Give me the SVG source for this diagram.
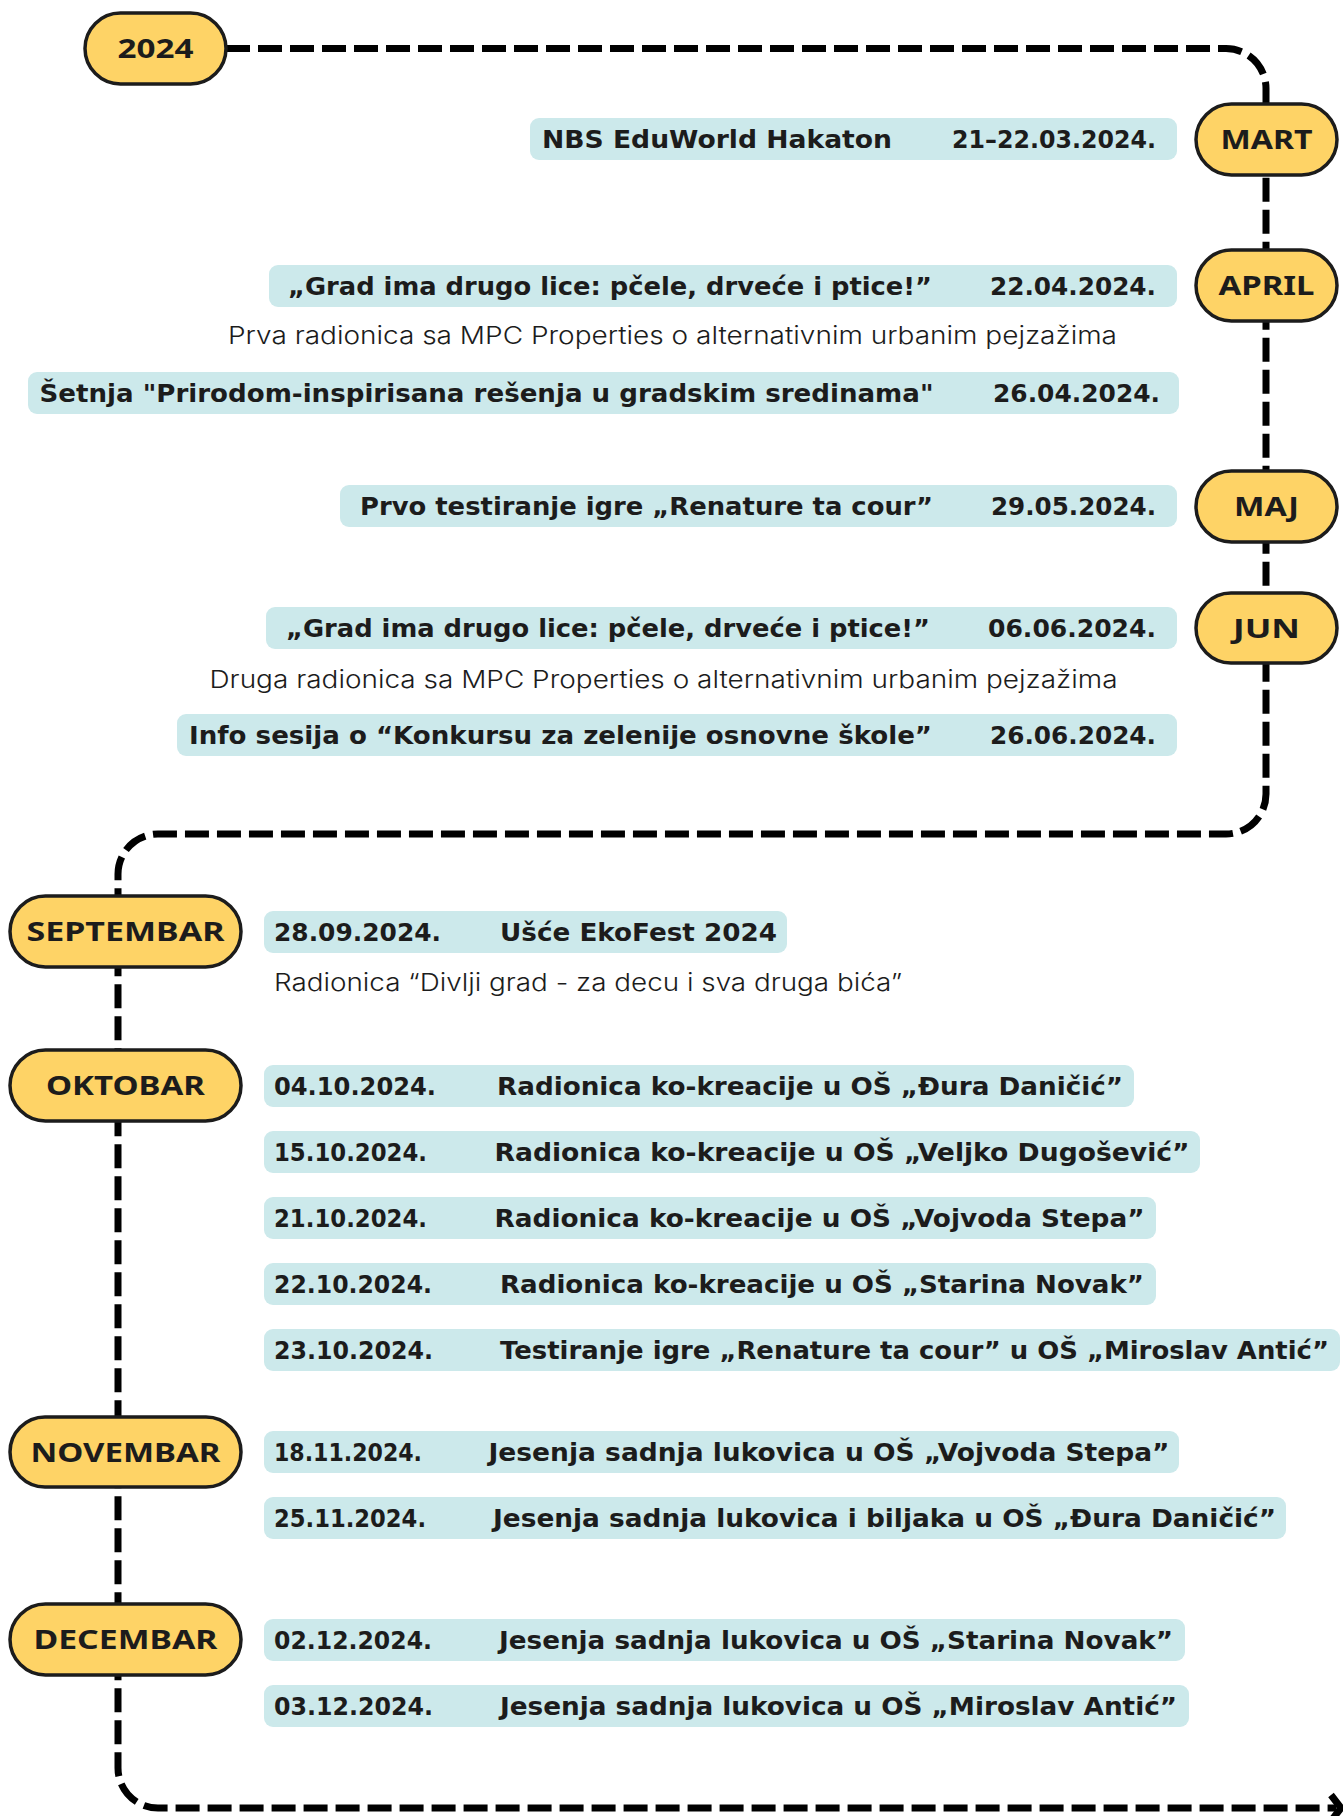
<svg xmlns="http://www.w3.org/2000/svg" width="1343" height="1816" viewBox="0 0 1343 1816">
<style>
.pill{fill:#FED366;stroke:#1c1c1c;stroke-width:3.5}
.pt{font-family:"Noto Sans","DejaVu Sans",sans-serif;font-weight:700;font-size:27px;fill:#1c1c1c;text-anchor:middle}
.box{fill:#CCE9EB}
.bt{font-family:"DejaVu Sans","Noto Sans",sans-serif;font-weight:700;font-size:24px;fill:#1c1c1c}
.pl{font-family:Inter,"Noto Sans",sans-serif;font-weight:300;font-size:24px;fill:#1c1c1c}
.line{fill:none;stroke:#000;stroke-width:7;stroke-dasharray:24 8}
</style>
<rect width="1343" height="1816" fill="#fff"/>
<g id="connectors">
<path class="line" d="M 226 48.5 H 1226 A 40 40 0 0 1 1266 88.5 V 794 A 40 40 0 0 1 1226 834 H 158 A 40 40 0 0 0 118 874 V 1768 A 40 40 0 0 0 158 1808 H 1336"/>
<path d="M 1331 1795 L 1341 1808 L 1331 1821" fill="none" stroke="#000" stroke-width="7"/>
</g>
<g id="n2024"><rect class="pill" x="85" y="13" width="141" height="71" rx="35.5"/><text class="pt" x="155.5" y="58" textLength="76" lengthAdjust="spacingAndGlyphs">2024</text></g>
<g id="mart"><rect class="pill" x="1196" y="104" width="141" height="71" rx="35.5"/><text class="pt" x="1266.5" y="149" textLength="92" lengthAdjust="spacingAndGlyphs">MART</text></g>
<g id="april"><rect class="pill" x="1196" y="250" width="141" height="71" rx="35.5"/><text class="pt" x="1266.5" y="295" textLength="96" lengthAdjust="spacingAndGlyphs">APRIL</text></g>
<g id="maj"><rect class="pill" x="1196" y="471" width="141" height="71" rx="35.5"/><text class="pt" x="1266.5" y="516" textLength="65" lengthAdjust="spacingAndGlyphs">MAJ</text></g>
<g id="jun"><rect class="pill" x="1196" y="593" width="141" height="70" rx="35"/><text class="pt" x="1266.5" y="637.5" textLength="67" lengthAdjust="spacingAndGlyphs">JUN</text></g>
<g id="septembar"><rect class="pill" x="10" y="896" width="231" height="71" rx="35.5"/><text class="pt" x="125.5" y="941" textLength="198" lengthAdjust="spacingAndGlyphs">SEPTEMBAR</text></g>
<g id="oktobar"><rect class="pill" x="10" y="1050" width="231" height="71" rx="35.5"/><text class="pt" x="125.5" y="1095" textLength="159" lengthAdjust="spacingAndGlyphs">OKTOBAR</text></g>
<g id="novembar"><rect class="pill" x="10" y="1417" width="231" height="70" rx="35"/><text class="pt" x="125.5" y="1461.5" textLength="190" lengthAdjust="spacingAndGlyphs">NOVEMBAR</text></g>
<g id="decembar"><rect class="pill" x="10" y="1604" width="231" height="71" rx="35.5"/><text class="pt" x="125.5" y="1649" textLength="184" lengthAdjust="spacingAndGlyphs">DECEMBAR</text></g>

<g id="e1"><rect class="box" x="530" y="118" width="647" height="42" rx="9"/><text class="bt" x="542" y="147.5" textLength="350" lengthAdjust="spacingAndGlyphs">NBS EduWorld Hakaton</text><text class="bt" x="952" y="147.5" textLength="204" lengthAdjust="spacingAndGlyphs">21–22.03.2024.</text></g>
<g id="e2"><rect class="box" x="269" y="265" width="908" height="42" rx="9"/><text class="bt" x="288" y="294.5" textLength="644" lengthAdjust="spacingAndGlyphs">„Grad ima drugo lice: pčele, drveće i ptice!”</text><text class="bt" x="990" y="294.5" textLength="166" lengthAdjust="spacingAndGlyphs">22.04.2024.</text></g>
<g id="t1"><text class="pl" x="228" y="344" textLength="889" lengthAdjust="spacingAndGlyphs">Prva radionica sa MPC Properties o alternativnim urbanim pejzažima</text></g>
<g id="e3"><rect class="box" x="28" y="372" width="1151" height="42" rx="9"/><text class="bt" x="39.5" y="401.5" textLength="894" lengthAdjust="spacingAndGlyphs">Šetnja "Prirodom-inspirisana rešenja u gradskim sredinama"</text><text class="bt" x="993" y="401.5" textLength="167" lengthAdjust="spacingAndGlyphs">26.04.2024.</text></g>
<g id="e4"><rect class="box" x="340" y="485" width="837" height="42" rx="9"/><text class="bt" x="360" y="514.5" textLength="573" lengthAdjust="spacingAndGlyphs">Prvo testiranje igre „Renature ta cour”</text><text class="bt" x="991" y="514.5" textLength="165" lengthAdjust="spacingAndGlyphs">29.05.2024.</text></g>
<g id="e5"><rect class="box" x="266" y="607" width="911" height="42" rx="9"/><text class="bt" x="286" y="636.5" textLength="644" lengthAdjust="spacingAndGlyphs">„Grad ima drugo lice: pčele, drveće i ptice!”</text><text class="bt" x="988" y="636.5" textLength="168" lengthAdjust="spacingAndGlyphs">06.06.2024.</text></g>
<g id="t2"><text class="pl" x="209.5" y="688" textLength="908" lengthAdjust="spacingAndGlyphs">Druga radionica sa MPC Properties o alternativnim urbanim pejzažima</text></g>
<g id="e6"><rect class="box" x="177" y="714" width="1000" height="42" rx="9"/><text class="bt" x="189" y="743.5" textLength="743" lengthAdjust="spacingAndGlyphs">Info sesija o “Konkursu za zelenije osnovne škole”</text><text class="bt" x="990" y="743.5" textLength="166" lengthAdjust="spacingAndGlyphs">26.06.2024.</text></g>

<g id="e7"><rect class="box" x="264" y="911" width="523" height="42" rx="9"/><text class="bt" x="274" y="940.5" textLength="167" lengthAdjust="spacingAndGlyphs">28.09.2024.</text><text class="bt" x="500" y="940.5" textLength="277" lengthAdjust="spacingAndGlyphs">Ušće EkoFest 2024</text></g>
<g id="t3"><text class="pl" x="274" y="990.5" textLength="628" lengthAdjust="spacingAndGlyphs">Radionica “Divlji grad - za decu i sva druga bića”</text></g>
<g id="e8"><rect class="box" x="264" y="1065" width="870" height="42" rx="9"/><text class="bt" x="274" y="1094.5" textLength="162" lengthAdjust="spacingAndGlyphs">04.10.2024.</text><text class="bt" x="497" y="1094.5" textLength="626" lengthAdjust="spacingAndGlyphs">Radionica ko-kreacije u OŠ „Đura Daničić”</text></g>
<g id="e9"><rect class="box" x="264" y="1131" width="936" height="42" rx="9"/><text class="bt" x="274" y="1160.5" textLength="153" lengthAdjust="spacingAndGlyphs">15.10.2024.</text><text class="bt" x="494.5" y="1160.5" textLength="695" lengthAdjust="spacingAndGlyphs">Radionica ko-kreacije u OŠ „Veljko Dugošević”</text></g>
<g id="e10"><rect class="box" x="264" y="1197" width="892" height="42" rx="9"/><text class="bt" x="274" y="1226.5" textLength="153" lengthAdjust="spacingAndGlyphs">21.10.2024.</text><text class="bt" x="494.5" y="1226.5" textLength="650" lengthAdjust="spacingAndGlyphs">Radionica ko-kreacije u OŠ „Vojvoda Stepa”</text></g>
<g id="e11"><rect class="box" x="264" y="1263" width="892" height="42" rx="9"/><text class="bt" x="274" y="1292.5" textLength="158" lengthAdjust="spacingAndGlyphs">22.10.2024.</text><text class="bt" x="500" y="1292.5" textLength="644" lengthAdjust="spacingAndGlyphs">Radionica ko-kreacije u OŠ „Starina Novak”</text></g>
<g id="e12"><rect class="box" x="264" y="1329" width="1076" height="42" rx="9"/><text class="bt" x="274" y="1358.5" textLength="159" lengthAdjust="spacingAndGlyphs">23.10.2024.</text><text class="bt" x="500" y="1358.5" textLength="829" lengthAdjust="spacingAndGlyphs">Testiranje igre „Renature ta cour” u OŠ „Miroslav Antić”</text></g>
<g id="e13"><rect class="box" x="264" y="1431" width="915" height="42" rx="9"/><text class="bt" x="274" y="1460.5" textLength="148" lengthAdjust="spacingAndGlyphs">18.11.2024.</text><text class="bt" x="488.5" y="1460.5" textLength="681" lengthAdjust="spacingAndGlyphs">Jesenja sadnja lukovica u OŠ „Vojvoda Stepa”</text></g>
<g id="e14"><rect class="box" x="264" y="1497" width="1022" height="42" rx="9"/><text class="bt" x="274" y="1526.5" textLength="152" lengthAdjust="spacingAndGlyphs">25.11.2024.</text><text class="bt" x="493" y="1526.5" textLength="783" lengthAdjust="spacingAndGlyphs">Jesenja sadnja lukovica i biljaka u OŠ „Đura Daničić”</text></g>
<g id="e15"><rect class="box" x="264" y="1619" width="921" height="42" rx="9"/><text class="bt" x="274" y="1648.5" textLength="158" lengthAdjust="spacingAndGlyphs">02.12.2024.</text><text class="bt" x="499" y="1648.5" textLength="674" lengthAdjust="spacingAndGlyphs">Jesenja sadnja lukovica u OŠ „Starina Novak”</text></g>
<g id="e16"><rect class="box" x="264" y="1685" width="925" height="42" rx="9"/><text class="bt" x="274" y="1714.5" textLength="159" lengthAdjust="spacingAndGlyphs">03.12.2024.</text><text class="bt" x="500" y="1714.5" textLength="677" lengthAdjust="spacingAndGlyphs">Jesenja sadnja lukovica u OŠ „Miroslav Antić”</text></g>
</svg>
